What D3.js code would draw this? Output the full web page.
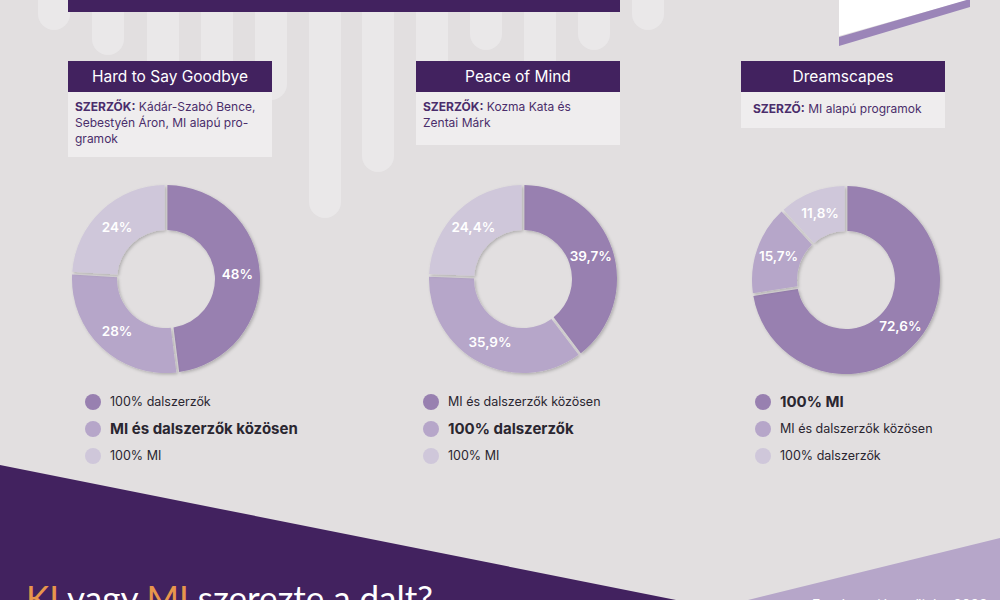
<!DOCTYPE html>
<html><head><meta charset="utf-8">
<script src="https://cdn.jsdelivr.net/npm/d3@7"></script>
<style>html,body{margin:0;padding:0;background:#e2dfe0;overflow:hidden}svg{display:block;font-family:Inter,"Noto Sans",sans-serif}</style>
</head><body>
<script>
// ---- data ----
const songTitles = ["Hard to Say Goodbye", "Peace of Mind", "Dreamscapes"];
const authorHeads = ["SZERZŐK:", "SZERZŐK:", "SZERZŐ:"];
const authorLines = [
  [" Kádár-Szabó Bence,", "Sebestyén Áron, MI alapú pro-", "gramok"],
  [" Kozma Kata és", "Zentai Márk"],
  [" MI alapú programok"]
];
const valuesSong1 = [48, 28, 24];
const valuesSong2 = [39.7, 35.9, 24.4];
const valuesSong3 = [72.6, 15.7, 11.8];
const legendSong1 = ["100% dalszerzők", "MI és dalszerzők közösen", "100% MI"];
const legendSong2 = ["MI és dalszerzők közösen", "100% dalszerzők", "100% MI"];
const legendSong3 = ["100% MI", "MI és dalszerzők közösen", "100% dalszerzők"];
const legendBold = [1, 1, 0];
const mainTitle = [["KI", true], [" vagy ", false], ["MI", true], [" szerezte a dalt?", false]];
const sourceText = "Forrás: saját gyűjtés, 2023";

const allValues = [valuesSong1, valuesSong2, valuesSong3];
const allLegends = [legendSong1, legendSong2, legendSong3];

// ---- layout ----
const W = 1000, H = 600;
const colors = ["#9880b0", "#b6a6c9", "#cfc7da"];
const colX = [68, 416, 741];
const boxW = 204;
const bodyBottoms = [157, 145, 128];
const centers = [[166, 279], [523, 279], [846, 280]];
const legendX = [93, 431, 763];

const svg = d3.select("body").append("svg").attr("width", W).attr("height", H);
const defs = svg.append("defs");
const f = defs.append("filter").attr("id", "sh").attr("x", "-20%").attr("y", "-20%").attr("width", "140%").attr("height", "140%");
f.append("feDropShadow").attr("dx", 1.5).attr("dy", 1.5).attr("stdDeviation", 1.5).attr("flood-color", "#000").attr("flood-opacity", 0.22);

svg.append("rect").attr("width", W).attr("height", H).attr("fill", "#e2dfe0");

// decorative pills
const pillX = [54, 108, 163, 217, 271, 325, 378, 432, 486, 540, 594, 648];
const pillBottom = [30, 55, 95, 110, 100, 218, 172, 135, 50, 125, 50, 30];
svg.selectAll("rect.pill").data(pillX).join("rect").attr("class", "pill")
  .attr("x", d => d - 16).attr("y", -30).attr("width", 32)
  .attr("height", (d, i) => pillBottom[i] + 30).attr("rx", 16)
  .attr("fill", "#eae8e9");

// top bar
svg.append("rect").attr("x", 68).attr("y", 0).attr("width", 552).attr("height", 12).attr("fill", "#42225f");

// top-right ornament
svg.append("polygon").attr("points", "839,0 968,0 839,36").attr("fill", "#ffffff");
svg.append("polygon").attr("points", "839,37 970,-1 970,7 839,46").attr("fill", "#9b85b8");

// bottom shapes
svg.append("polygon").attr("points", "0,465 676,600 0,600").attr("fill", "#42225f");
svg.append("polygon").attr("points", "748,600 1000,538 1000,600").attr("fill", "#b6a6c9");

// title
const tt = svg.append("text").attr("x", 26).attr("y", 611).attr("font-size", 35).attr("font-family", "Lato, Inter, sans-serif");
mainTitle.forEach(([t, o]) => tt.append("tspan").text(t).attr("fill", o ? "#e8964c" : "#ffffff"));
svg.append("text").attr("x", 812).attr("y", 610).attr("font-size", 14).attr("fill", "#ffffff").text(sourceText);

// boxes
songTitles.forEach((t, i) => {
  const g = svg.append("g");
  g.append("rect").attr("x", colX[i]).attr("y", 92).attr("width", boxW).attr("height", bodyBottoms[i] - 92).attr("fill", "#efedee");
  g.append("rect").attr("x", colX[i]).attr("y", 61).attr("width", boxW).attr("height", 31).attr("fill", "#42225f");
  g.append("text").attr("x", colX[i] + boxW / 2).attr("y", 82).attr("text-anchor", "middle")
    .attr("font-size", 15.5).attr("fill", "#ffffff").text(t);
  const lines = authorLines[i];
  lines.forEach((l, j) => {
    const tx = g.append("text").attr("x", colX[i] + (i === 2 ? 12 : 7)).attr("y", i === 2 ? 113 : 111 + j * 16)
      .attr("font-size", 12).attr("fill", "#4a2d6b");
    if (j === 0) tx.append("tspan").attr("font-weight", 700).text(authorHeads[i]);
    tx.append("tspan").text(l);
  });
});

// donuts
const fmt = d3.formatLocale({decimal: ",", thousands: " ", grouping: [3], currency: ["", ""]});
const f1 = fmt.format(".1f");
const label = v => (Number.isInteger(v) ? String(v) : f1(v)) + "%";
const pie = d3.pie().sort(null).value(d => d);
const rOuter = 94, rInner = 49;
const arc = d3.arc().innerRadius(rInner).outerRadius(rOuter).padAngle(0.028).padRadius(100);
const labelArc = d3.arc().innerRadius((rInner + rOuter) / 2).outerRadius((rInner + rOuter) / 2);

allValues.forEach((vals, i) => {
  const g = svg.append("g").attr("transform", `translate(${centers[i][0]},${centers[i][1]})`);
  const arcs = pie(vals);
  g.selectAll("path").data(arcs).join("path").attr("d", arc)
    .attr("fill", (d, k) => colors[k]).attr("filter", "url(#sh)");
  g.selectAll("text").data(arcs).join("text")
    .attr("transform", d => `translate(${labelArc.centroid(d)})`)
    .attr("text-anchor", "middle").attr("dy", "0.35em")
    .attr("font-size", 13.5).attr("font-weight", 600).attr("fill", "#ffffff")
    .text(d => label(d.data));
});

// legends
const legendY = [402, 429, 456];
allLegends.forEach((items, i) => {
  const g = svg.append("g");
  items.forEach((t, k) => {
    g.append("circle").attr("cx", legendX[i]).attr("cy", legendY[k]).attr("r", 8).attr("fill", colors[k]);
    const b = legendBold[i] === k;
    g.append("text").attr("x", legendX[i] + 17).attr("y", legendY[k]).attr("dy", "0.35em")
      .attr("font-size", b ? 15 : 12.5).attr("font-weight", b ? 700 : 400)
      .attr("fill", "#2a2630").text(t);
  });
});
</script>
</body></html>
